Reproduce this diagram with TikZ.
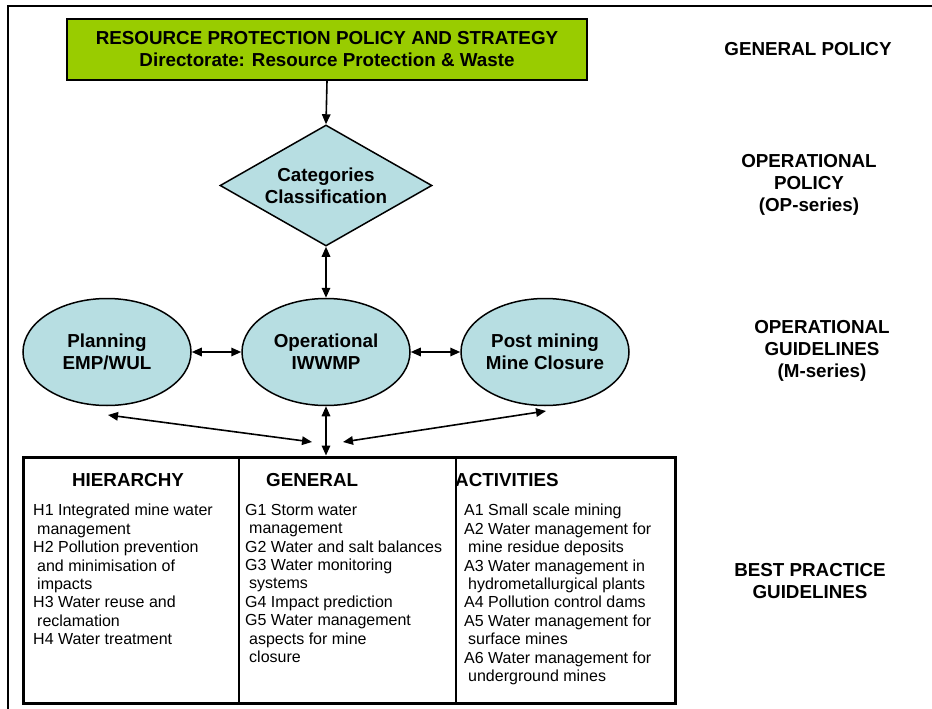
\documentclass[tikz,border=0pt]{standalone}
\usepackage{fontspec}
\setmainfont{Liberation Sans}
\usetikzlibrary{shapes.geometric,arrows.meta,calc}
\definecolor{polgreen}{RGB}{153,204,0}
\definecolor{lblue}{RGB}{183,222,226}
\begin{document}
\begin{tikzpicture}[x=1pt,y=-1pt,
  bold/.style={font=\fontsize{18.8}{22}\selectfont\bfseries, align=center},
  item/.style={font=\fontsize{16}{18.4}\selectfont, align=left, anchor=north west, inner sep=0},
  conn/.style={line width=1.6pt, -{Triangle[length=10pt,width=8.5pt]}},
  dconn/.style={line width=1.6pt, {Triangle[length=10pt,width=8.5pt]}-{Triangle[length=10pt,width=8.5pt]}},
  bubble/.style={ellipse, draw, line width=1.5pt, fill=lblue, minimum width=168pt, minimum height=107pt, inner sep=0, bold}]
\useasboundingbox (0,0) rectangle (932,709);
\draw[line width=1.8pt] (8,709) -- (8,6) -- (932,6);

% top box
\node[draw, line width=1.6pt, fill=polgreen, minimum width=520pt, minimum height=61pt, inner sep=0, bold] (rp) at (327,49.5)
  {RESOURCE PROTECTION POLICY AND STRATEGY\\Directorate: Resource Protection \& Waste};

% diamond
\node[diamond, shape aspect=1.75, draw, line width=1.5pt, fill=lblue, minimum width=212pt, minimum height=121pt, inner sep=0, bold] (cc) at (326,185.5)
  {Categories\\Classification};

% ellipses
\node[bubble] (pl) at (107,352) {Planning\\EMP/WUL};
\node[bubble] (op) at (326,352) {Operational\\IWWMP};
\node[bubble] (pm) at (545,352) {Post mining\\Mine Closure};

% right labels
\node[bold] (gp) at (808,49) {GENERAL POLICY};
\node[bold] (opp) at (809,184.5) {OPERATIONAL\\POLICY\\(OP-series)};
\node[bold] (ogl) at (822,350.5) {OPERATIONAL\\GUIDELINES\\(M-series)};
\node[bold] (bpg) at (810,581) {BEST PRACTICE\\GUIDELINES};

% bottom box
\node[draw, line width=3pt, minimum width=652pt, minimum height=246pt, inner sep=0] (bp) at (349,580) {};

% headers
\node[bold, anchor=base] (hh) at (128,486.6) {HIERARCHY};
\node[bold, anchor=base west, inner sep=0] (hg) at (266,486.6) {GENERAL};
\node[bold, anchor=base west, inner sep=0] (ha) at (455,486.6) {ACTIVITIES};

\draw[line width=2.5pt] (239,457) -- (239,703);
\draw[line width=2.5pt] (456,457) -- (456,703);

% items
\node[item] (ih) at (33,504) {H1 Integrated mine water\\
\hspace*{4pt}management\\
H2 Pollution prevention\\
\hspace*{4pt}and minimisation of\\
\hspace*{4pt}impacts\\
H3 Water reuse and\\
\hspace*{4pt}reclamation\\
H4 Water treatment};
\node[item] (ig) at (245,504) {G1 Storm water\\
\hspace*{4pt}management\\
G2 Water and salt balances\\
G3 Water monitoring\\
\hspace*{4pt}systems\\
G4 Impact prediction\\
G5 Water management\\
\hspace*{4pt}aspects for mine\\
\hspace*{4pt}closure};
\node[item] (ia) at (464,504) {A1 Small scale mining\\
A2 Water management for\\
\hspace*{4pt}mine residue deposits\\
A3 Water management in\\
\hspace*{4pt}hydrometallurgical plants\\
A4 Pollution control dams\\
A5 Water management for\\
\hspace*{4pt}surface mines\\
A6 Water management for\\
\hspace*{4pt}underground mines};

% connectors
\draw[conn] (rp.south) -- (cc.north);
\draw[dconn] (cc.south) -- (op.north);
\draw[dconn] (pl.east) -- (op.west);
\draw[dconn] (op.east) -- (pm.west);
\draw[dconn] (op.south) -- (op.south |- bp.north);
\coordinate (pla) at (108,415);
\coordinate (jl) at (312,442);
\coordinate (pma) at (546,411);
\coordinate (jr) at (343,442);
\draw[dconn] (pla) -- (jl);
\draw[dconn] (jr) -- (pma);
\end{tikzpicture}
\end{document}
